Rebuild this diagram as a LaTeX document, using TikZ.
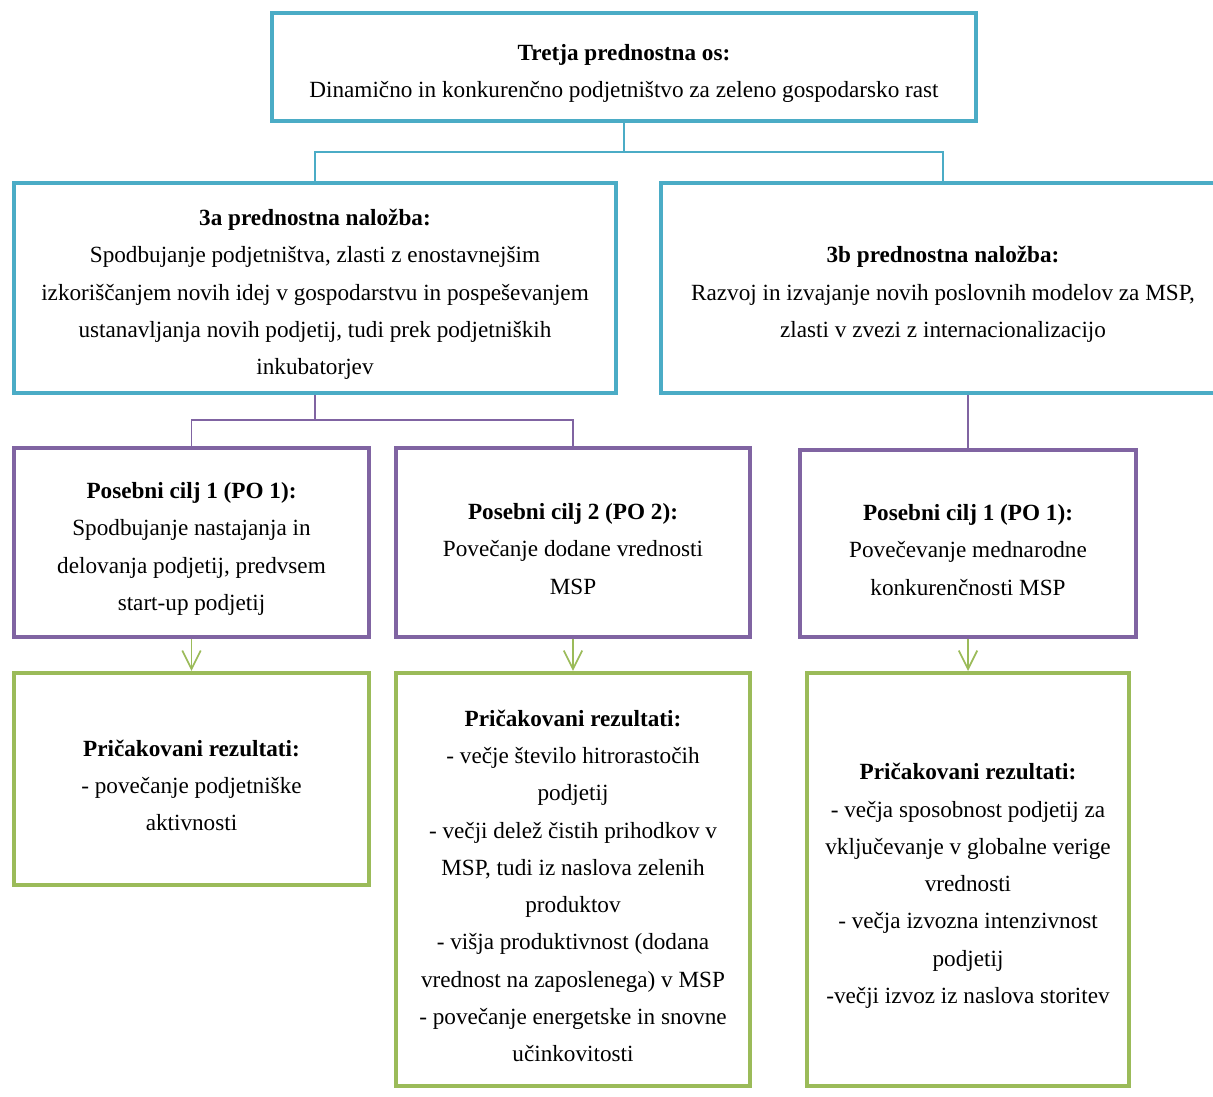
\documentclass[tikz,border=0pt]{standalone}
\usepackage{fontspec}
\setmainfont{Liberation Serif}
\usetikzlibrary{arrows.meta}
\definecolor{axisteal}{RGB}{75,172,198}
\definecolor{goalpurple}{RGB}{128,100,162}
\definecolor{resultgreen}{RGB}{155,187,89}
\tikzset{
	box/.style={rectangle, line width=2.3pt, align=center, fill=white,
		inner sep=0pt, font=\fontsize{13.2}{21.2}\selectfont},
	axisbox/.style={box, draw=axisteal},
	goalbox/.style={box, draw=goalpurple},
	resultbox/.style={box, draw=resultgreen},
	axisline/.style={draw=axisteal, line width=0.9pt},
	goalline/.style={draw=goalpurple, line width=0.9pt},
	resultarrow/.style={draw=resultgreen, line width=1pt,
		-{Straight Barb[length=10.5pt, width=10.5pt]}}
}
\begin{document}
\begin{tikzpicture}[x=0.02cm, y=-0.02cm]
			\newcommand{\myhead}[1]{%
				\rule{0pt}{16.5pt}\textbf{#1}%
			}%Page frame
			\useasboundingbox (0,0) rectangle (1213,1097);
			\clip (0,0) rectangle (1213,1097);
			%Priority axis
			\node [axisbox, minimum width=0.02cm*704, minimum height=0.02cm*108] (axis) at (624,67)
				{\myhead{Tretja prednostna os:}\\
				Dinamično in konkurenčno podjetništvo za zeleno gospodarsko rast};
			%Investment priorities
			\node [axisbox, minimum width=0.02cm*602, minimum height=0.02cm*210] (inv3a) at (315,288)
				{\myhead{3a prednostna naložba:}\\
				Spodbujanje podjetništva, zlasti z enostavnejšim\\
				izkoriščanjem novih idej v gospodarstvu in pospeševanjem\\
				ustanavljanja novih podjetij, tudi prek podjetniških\\
				inkubatorjev};
			\node [axisbox, minimum width=0.02cm*564, minimum height=0.02cm*210] (inv3b) at (943,288)
				{\myhead{3b prednostna naložba:}\\
				Razvoj in izvajanje novih poslovnih modelov za MSP,\\
				zlasti v zvezi z internacionalizacijo};
			%Specific objectives
			\node [goalbox, minimum width=0.02cm*355, minimum height=0.02cm*189] (goal3a1) at (191.5,542.5)
				{\myhead{Posebni cilj 1 (PO 1):}\\
				Spodbujanje nastajanja in\\
				delovanja podjetij, predvsem\\
				start-up podjetij};
			\node [goalbox, minimum width=0.02cm*354, minimum height=0.02cm*189] (goal3a2) at (573,542.5)
				{\myhead{Posebni cilj 2 (PO 2):}\\
				Povečanje dodane vrednosti\\
				MSP};
			\node [goalbox, minimum width=0.02cm*336, minimum height=0.02cm*187] (goal3b1) at (968,543.5)
				{\myhead{Posebni cilj 1 (PO 1):}\\
				Povečevanje mednarodne\\
				konkurenčnosti MSP};
			%Expected results
			\node [resultbox, minimum width=0.02cm*355, minimum height=0.02cm*212] (res3a1) at (191.5,779)
				{\myhead{Pričakovani rezultati:}\\
				- povečanje podjetniške\\
				aktivnosti};
			\node [resultbox, minimum width=0.02cm*354, minimum height=0.02cm*413] (res3a2) at (573,879.5)
				{\myhead{Pričakovani rezultati:}\\
				- večje število hitrorastočih\\
				podjetij\\
				- večji delež čistih prihodkov v\\
				MSP, tudi iz naslova zelenih\\
				produktov\\
				- višja produktivnost (dodana\\
				vrednost na zaposlenega) v MSP\\
				- povečanje energetske in snovne\\
				učinkovitosti};
			\node [resultbox, minimum width=0.02cm*322, minimum height=0.02cm*413] (res3b1) at (968,879.5)
				{\myhead{Pričakovani rezultati:}\\
				- večja sposobnost podjetij za\\
				vključevanje v globalne verige\\
				vrednosti\\
				- večja izvozna intenzivnost\\
				podjetij\\
				-večji izvoz iz naslova storitev};
			%Connectors axis to priorities
			\coordinate (axisjoin) at (624,152);
			\draw [axisline] (axis.south) -- (axisjoin) -| (inv3a.north);
			\draw [axisline] (axisjoin) -| (inv3b.north);
			%Connectors priorities to objectives
			\coordinate (inv3ajoin) at (315,420);
			\draw [goalline] (inv3a.south) -- (inv3ajoin) -| (goal3a1.north);
			\draw [goalline] (inv3ajoin) -| (goal3a2.north);
			\draw [goalline] (goal3b1.north) -- (goal3b1.north |- inv3b.south);
			%Arrows objectives to results
			\draw [resultarrow] (goal3a1.south) -- (res3a1.north);
			\draw [resultarrow] (goal3a2.south) -- (res3a2.north);
			\draw [resultarrow] (goal3b1.south) -- (res3b1.north);
\end{tikzpicture}
\end{document}
